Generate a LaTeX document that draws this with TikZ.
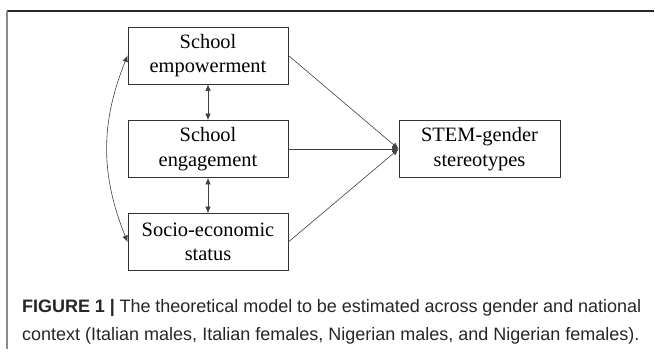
\documentclass[tikz,border=0pt]{standalone}
\usepackage{fontspec}
\setmainfont{Liberation Serif}
\newfontfamily\capfont{Liberation Sans}
\usetikzlibrary{shapes, arrows.meta}

\begin{document}
\begin{tikzpicture}[x=1pt, y=1pt,
  >={Latex[length=6.5pt, width=5.5pt]},
  var/.style={rectangle, draw=black!80, line width=0.8pt, minimum width=160pt,
    minimum height=57pt, inner sep=0pt, align=center,
    font=\fontsize{20.4}{24.5}\selectfont},
  path/.style={draw=black!75, line width=0.6pt},
  caption/.style={anchor=base west, inner sep=0pt, text=black!85,
    font=\capfont\fontsize{18}{20}\selectfont}]
\useasboundingbox (0,0) rectangle (655,358);
% frame
\draw[black!85, line width=1.4pt] (7,347) -- (654,347);
\draw[black!45, line width=2pt] (7,347) -- (7,9);
% variables
\node[var] (E) at (208,302.5) {School\\empowerment};
\node[var] (G) at (208,209) {School\\engagement};
\node[var] (S) at (208,116) {Socio-economic\\status};
\node[var, minimum width=161pt] (T) at (479.5,209) {STEM-gender\\stereotypes};
\draw[<->, path] (E) -- (G);
\draw[<->, path] (G) -- (S);
\draw[<->, path] (E.west) to[bend right=22] (S.west);
\draw[->, path] (E.east) -- (T.west);
\draw[->, path] (G.east) -- (T.west);
\draw[->, path] (S.east) -- (T.west);
% caption
\node[caption] (cap1) at (22,45)
  {\makebox[619pt][s]{\textbf{FIGURE 1 |} The theoretical model to be estimated across gender and national}};
\node[caption] (cap2) at (22,17)
  {context (Italian males, Italian females, Nigerian males, and Nigerian females).};
\end{tikzpicture}
\end{document}
